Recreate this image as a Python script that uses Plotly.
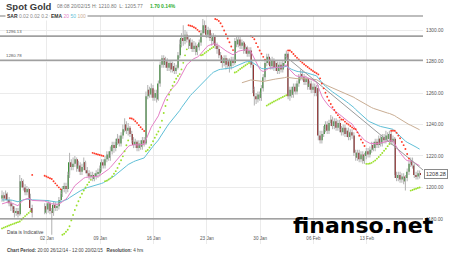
import plotly.graph_objects as go

# ---------------- data (4-hour bars, Spot Gold) ----------------
first_open = 1193
closes = [1195,1193,1196,1192,1190,1188,1186,1184,1185,1183,
          1204,1203,1200,1197,1199,1194,1187,1184,None,None,
          None,None,None,None,1188,1186,1190,1185,1184,1189,
          1187,1188,1192,1196,1199,1201,1199,1208,1216,1213,
          1215,1218,1212,1214,1210,1213,1216,1211,1209,1207,
          1208,1206,1207,1209,1209,1212,1216,1214,1218,1221,
          1219,1223,1227,1225,1229,1231,1228,1233,1237,1240,
          1236,1238,1234,1230,1227,1229,1225,1228,1226,1230,
          1228,1258,1262,1259,1263,1257,1260,1256,1266,1278,
          1282,1278,1280,1276,1279,1275,1277,1274,1276,1284,
          1291,1295,1293,1297,1294,1290,1292,1288,1290,1286,
          1289,1292,1298,1303,1301,1297,1300,1295,1293,1296,
          1290,1288,1284,1281,1279,1282,1278,1280,1277,1281,
          1279,1293,1291,1294,1290,1292,1287,1289,1285,1287,
          1278,1262,1258,1256,1259,1257,1263,1270,1279,1283,
          1280,1277,1281,1276,1279,1274,1278,1275,1279,1283,
          1285,1258,1262,1259,1264,1261,1266,1270,1272,1270,
          1267,1269,1264,1266,1262,1264,1260,1263,1233,1230,
          1234,1237,1240,1236,1241,1243,1239,1242,1238,1241,
          1237,1235,1238,1234,1236,1232,1235,1233,1222,1219,
          1222,1218,1221,1217,1220,1223,1221,1224,1227,1225,
          1229,1227,1231,1228,1232,1230,1233,1231,1234,1229,
          1231,1208,1206,1208,1205,1207,1204,1206,1210,1215,
          1217,1214,1208,1207,1209,1208.28]
highs = [1198,1197,1198,1197,1194,1192,1190,1188,1187,1187,
         1208,1206,1205,1202,1201,1200,1196,1189,None,None,
         None,None,None,None,1190,1190,1192,1191,1187,1191,
         1191,1190,1194,1198,1201,1203,1203,1210,1222,1218,
         1219,1220,1219,1217,1216,1215,1219,1217,1213,1211,
         1210,1210,1209,1211,1212,1214,1218,1218,1220,1223,
         1223,1226,1229,1229,1231,1234,1233,1235,1240,1244,
         1242,1241,1239,1236,1232,1231,1230,1230,1230,1232,
         1232,1261,1265,1264,1266,1265,1262,1262,1268,1280,
         1284,1284,1283,1282,1281,1281,1280,1279,1278,1286,
         1294,1298,1303,1300,1299,1296,1295,1294,1293,1292,
         1291,1294,1300,1307,1306,1303,1302,1301,1298,1298,
         1297,1292,1290,1286,1283,1284,1284,1282,1282,1283,
         1283,1295,1296,1296,1296,1294,1293,1291,1290,1289,
         1289,1280,1264,1260,1261,1261,1265,1272,1281,1285,
         1285,1282,1283,1282,1281,1280,1280,1280,1281,1285,
         1287,1286,1264,1264,1266,1266,1268,1272,1275,1274,
         1272,1271,1270,1268,1268,1266,1266,1265,1265,1236,
         1236,1239,1242,1242,1243,1246,1245,1244,1244,1243,
         1243,1239,1240,1240,1238,1238,1237,1237,1235,1224,
         1224,1224,1223,1223,1222,1225,1225,1226,1229,1229,
         1231,1231,1233,1233,1234,1234,1236,1235,1236,1236,
         1233,1232,1210,1210,1210,1209,1209,1208,1212,1217,
         1219,1219,1215,1210,1211,1210.8]
lows = [1191,1191,1192,1190,1188,1185,1184,1181,1182,1181,
        1182,1200,1198,1195,1195,1192,1185,1181,None,None,
        None,None,None,None,1183,1183,1184,1183,1170,1182,
        1185,1185,1186,1190,1194,1197,1196,1197,1206,1211,
        1211,1213,1210,1210,1208,1208,1211,1209,1207,1205,
        1205,1204,1204,1205,1206,1207,1210,1212,1212,1216,
        1217,1217,1221,1222,1223,1227,1226,1226,1231,1235,
        1234,1233,1232,1228,1225,1225,1223,1223,1224,1224,
        1226,1227,1256,1257,1257,1255,1255,1254,1255,1264,
        1276,1276,1276,1274,1274,1273,1273,1272,1272,1275,
        1282,1289,1290,1291,1292,1288,1288,1286,1286,1284,
        1284,1287,1290,1296,1298,1295,1295,1293,1290,1291,
        1288,1285,1282,1279,1276,1277,1275,1276,1273,1275,
        1277,1278,1289,1289,1288,1288,1285,1285,1283,1283,
        1276,1260,1252,1253,1254,1255,1255,1261,1268,1277,
        1278,1275,1275,1274,1274,1272,1272,1273,1273,1277,
        1281,1256,1255,1257,1257,1259,1259,1264,1268,1268,
        1265,1265,1262,1262,1260,1260,1258,1258,1230,1228,
        1228,1232,1235,1234,1234,1239,1237,1237,1236,1236,
        1235,1233,1233,1232,1232,1230,1230,1231,1220,1217,
        1217,1216,1216,1215,1215,1218,1219,1219,1222,1223,
        1223,1225,1225,1226,1226,1228,1228,1229,1229,1227,
        1227,1206,1204,1204,1203,1203,1202,1198,1204,1208,
        1213,1212,1206,1205,1205,1205.77]

tick_pos = [25.3, 55.3, 85.3, 115.3, 145.3, 175.3, 205.3]
tick_labels = ["02 Jan", "09 Jan", "16 Jan", "23 Jan", "30 Jan", "06 Feb", "13 Feb"]
price_ticks = [1180, 1200, 1220, 1240, 1260, 1280, 1300]
level_lines = [1296.13, 1280.78]
support_line = 1180.0
last_price = 1208.28
ema20_seed, ema50_seed = 1189, 1192
ema100_start, ema100_seed = 135, 1266
sar_seed = 1174
trend_x = [159.3, 236.9]
trend_y = [1283.5, 1211.1]

# ---------------- derived series ----------------
idx, O, H, L, C = [], [], [], [], []
prev = first_open
for i, c in enumerate(closes):
    if c is None:
        continue
    idx.append(i); O.append(prev); H.append(highs[i]); L.append(lows[i]); C.append(c)
    prev = c


def ema(vals, period, seed):
    a = 2.0 / (period + 1)
    e = seed
    out = []
    for v in vals:
        e = e + a * (v - e)
        out.append(e)
    return out


e20 = ema(C, 20, ema20_seed)
e50 = ema(C, 50, ema50_seed)
k100 = idx.index(ema100_start)
e100 = ema(C[k100:], 100, ema100_seed)


def psar(hi, lo, seed, af0=0.02, step=0.02, afmax=0.2):
    n = len(hi)
    out, up_flags = [seed], [True]
    up = True
    af = af0
    ep = hi[0]
    s_prev = seed
    for i in range(1, n):
        s = s_prev + af * (ep - s_prev)
        if up:
            s = min(s, lo[i - 1], lo[i - 2] if i > 1 else lo[i - 1])
            if lo[i] < s:
                up = False; s = ep; ep = lo[i]; af = af0
            elif hi[i] > ep:
                ep = hi[i]; af = min(af + step, afmax)
        else:
            s = max(s, hi[i - 1], hi[i - 2] if i > 1 else hi[i - 1])
            if hi[i] > s:
                up = True; s = ep; ep = hi[i]; af = af0
            elif lo[i] < ep:
                ep = lo[i]; af = min(af + step, afmax)
        out.append(s); up_flags.append(up)
        s_prev = s
    return out, up_flags


sar, sar_up = psar(H, L, sar_seed)

# ---------------- layout geometry (pixels) ----------------
W, HGT = 450, 255
PL, PR, PT, PB = 0, 423, 16, 244


def pxx(x):
    return (x - PL) / (PR - PL)


def pxy(y):
    return (PB - y) / (PB - PT)


fig = go.Figure()

# wicks
wx, wy = [], []
for i, h, l in zip(idx, H, L):
    wx += [i, i, None]; wy += [l, h, None]
fig.add_trace(go.Scatter(x=wx, y=wy, mode="lines", line=dict(color="#b8b8b8", width=1.1),
                         hoverinfo="skip", showlegend=False))
# bodies
fig.add_trace(go.Bar(x=idx, y=[max(abs(c - o), 0.5) for o, c in zip(O, C)],
                     base=[min(o, c) for o, c in zip(O, C)],
                     marker=dict(color=["#3f8f3a" if c >= o else "#8e2323" for o, c in zip(O, C)],
                                 line=dict(width=0)),
                     width=0.62, showlegend=False, hoverinfo="skip"))
# EMAs
fig.add_trace(go.Scatter(x=idx[k100:], y=e100, mode="lines", line=dict(color="#c9ad93", width=1), showlegend=False))
fig.add_trace(go.Scatter(x=idx, y=e50, mode="lines", line=dict(color="#5fbfd7", width=1), showlegend=False))
fig.add_trace(go.Scatter(x=idx, y=e20, mode="lines", line=dict(color="#e47fc6", width=1), showlegend=False))
# trend line
fig.add_trace(go.Scatter(x=trend_x, y=trend_y, mode="lines", line=dict(color="#9a9a9a", width=1), showlegend=False))
# SAR
fig.add_trace(go.Scatter(x=[i for i, u in zip(idx, sar_up) if u], y=[s for s, u in zip(sar, sar_up) if u],
                         mode="markers", marker=dict(color="#9be02c", size=1.9), showlegend=False))
fig.add_trace(go.Scatter(x=[i for i, u in zip(idx, sar_up) if not u], y=[s for s, u in zip(sar, sar_up) if not u],
                         mode="markers", marker=dict(color="#ff3a28", size=1.9), showlegend=False))

shapes = [dict(type="line", xref="paper", yref="paper", x0=0, x1=1, y0=1, y1=1,
               line=dict(color="#7c7c7c", width=1.2))]
for lv in level_lines:
    shapes.append(dict(type="line", xref="paper", yref="y", x0=0, x1=1, y0=lv, y1=lv,
                       line=dict(color="#a0a0a0", width=1.6)))
shapes.append(dict(type="line", xref="paper", yref="y", x0=0, x1=1, y0=support_line, y1=support_line,
                   line=dict(color="#8a8a8a", width=1.2)))

F = "Liberation Sans, Arial, sans-serif"
ann = []


def add_text(x, y, text, size, color="#555", anchor="left", bold=False, family=F, **kw):
    ann.append(dict(xref="paper", yref="paper", x=pxx(x), y=pxy(y), text=("<b>%s</b>" % text) if bold else text,
                    showarrow=False, xanchor=anchor, yanchor="middle",
                    font=dict(size=size, color=color, family=family), **kw))


add_text(4, 6, "Spot Gold", 9.5, "#3a3a3a", bold=True)
add_text(55, 6.5, "08:08 20/02/15", 5, "#777")
add_text(90, 6.5, "H: 1210.80 &nbsp;L: 1205.77", 5, "#777")
add_text(148, 6.5, "1.70 0.14%", 5, "#2fae2f", bold=True)
add_text(5, 16, "<b>SAR</b> <span style='color:#888'>0.02 0.02 0.2</span>", 5, "#333", bgcolor="white")
add_text(49, 16, "<b>EMA</b> <span style='color:#e47fc6'>20</span> <span style='color:#5fbfd7'>50</span> "
         "<span style='color:#c9ad93'>100</span>", 5, "#333", bgcolor="white")
for lv in level_lines:
    ann.append(dict(xref="paper", yref="y", x=pxx(4), y=lv, text="%.2f" % lv, showarrow=False,
                    xanchor="left", yanchor="bottom", yshift=0, font=dict(size=4.3, color="#555", family=F)))
add_text(5, 232, "Data is Indicative", 4.8, "#444")
add_text(5, 250, "<b>Chart Period:</b> 20:00 26/12/14 - 12:00 20/02/15 &nbsp;&nbsp;<b>Resolution:</b> 4 hrs",
         4.6, "#444")
ann.append(dict(xref="paper", yref="y", x=1.0, y=last_price, text="%.2f" % last_price, showarrow=False,
                xanchor="left", yanchor="middle", xshift=1, bgcolor="white", bordercolor="#8a8a8a",
                borderwidth=1, borderpad=1, font=dict(size=5.5, color="#333", family=F)))
add_text(291, 225.5, "finanso.net", 22, "black", bold=True, family="DejaVu Sans")

fig.update_layout(
    width=W, height=HGT, margin=dict(l=PL, r=W - PR, t=PT, b=HGT - PB),
    paper_bgcolor="white", plot_bgcolor="white", barmode="overlay",
    shapes=shapes, annotations=ann, showlegend=False,
    xaxis=dict(range=[-1.125, 236.9], tickvals=tick_pos, ticktext=tick_labels, ticks="",
               ticklabelposition="inside", showgrid=True, gridcolor="#ebebeb", gridwidth=1,
               zeroline=False, showline=False, tickfont=dict(size=4.6, color="#555", family=F),
               fixedrange=True),
    yaxis=dict(range=[1164.1, 1308.9], side="right", tickvals=price_ticks,
               ticktext=["%.2f" % v for v in price_ticks], ticks="", showgrid=True,
               gridcolor="#ebebeb", zeroline=False, showline=False, ticklabelstandoff=2,
               tickfont=dict(size=4.8, color="#555", family=F), fixedrange=True),
)

fig.write_html("out.html")
